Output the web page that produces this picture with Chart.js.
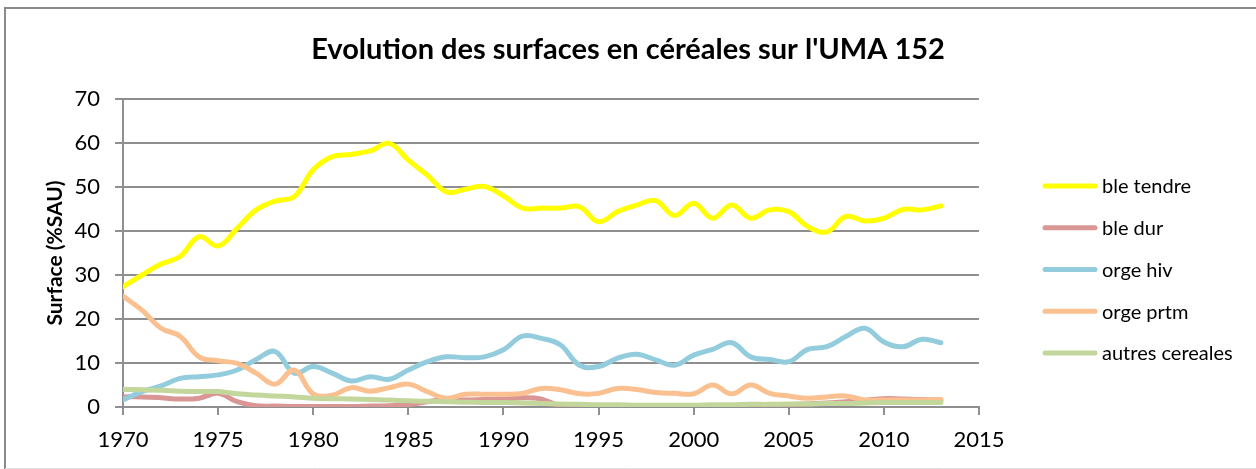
<!DOCTYPE html>
<html>
<head>
<meta charset="utf-8">
<script src="https://cdn.jsdelivr.net/npm/chart.js@4.4.0/dist/chart.umd.min.js"></script>
<style>
html,body{margin:0;padding:0;background:#fff;}
#wrap{position:relative;width:1256px;height:469px;overflow:hidden;}
canvas{display:block;}
</style>
</head>
<body>
<div id="wrap"><canvas id="c" width="1256" height="469"></canvas></div>
<script>
// ---- data ----
const chartTitle = "Evolution des surfaces en céréales sur l'UMA 152";
const yAxisTitle = "Surface (%SAU)";
const years = [1970,1971,1972,1973,1974,1975,1976,1977,1978,1979,
               1980,1981,1982,1983,1984,1985,1986,1987,1988,1989,
               1990,1991,1992,1993,1994,1995,1996,1997,1998,1999,
               2000,2001,2002,2003,2004,2005,2006,2007,2008,2009,
               2010,2011,2012,2013];
const xTickLabels = [1970,1975,1980,1985,1990,1995,2000,2005,2010,2015];
const yTickLabels = [0,10,20,30,40,50,60,70];
const seriesNames = ["ble tendre","ble dur","orge hiv","orge prtm","autres cereales"];

const bleTendre = [27.3,30.0,32.5,34.2,38.7,36.6,40.6,44.8,46.8,47.8,
                   53.9,56.9,57.4,58.2,59.9,56.1,52.7,48.9,49.5,50.1,
                   48.0,45.2,45.2,45.2,45.5,42.1,44.4,45.9,46.9,43.5,
                   46.3,42.9,45.9,42.9,44.8,44.4,41.0,39.8,43.3,42.3,
                   42.9,44.9,44.8,45.7];
const bleDur = [2.3,2.3,2.1,1.8,2.0,3.1,1.2,0.3,0.2,0.1,
                0.1,0.1,0.1,0.2,0.3,0.5,1.2,1.7,1.6,1.7,
                1.8,2.1,1.8,0.2,0.1,0.1,0.1,0.1,0.1,0.1,
                0.1,0.2,0.2,0.1,0.3,0.5,0.7,0.9,1.2,1.5,
                1.9,1.8,1.7,1.5];
const orgeHiv = [1.6,3.5,4.8,6.5,6.9,7.3,8.4,10.8,12.6,7.7,
                 9.2,7.7,5.9,6.9,6.3,8.4,10.3,11.4,11.2,11.4,
                 13.0,16.1,15.6,14.1,9.5,9.2,11.1,12.0,10.7,9.5,
                 11.8,13.1,14.6,11.4,10.8,10.3,13.1,13.7,16.0,17.9,
                 14.8,13.7,15.4,14.6];
const orgePrtm = [25.2,22.0,17.9,16.1,11.4,10.5,9.9,7.7,5.2,8.4,
                  3.0,2.7,4.4,3.6,4.4,5.2,3.5,2.0,2.9,2.9,
                  2.9,3.1,4.2,3.9,3.0,3.1,4.2,4.0,3.3,3.1,
                  3.0,5.0,3.0,5.0,3.1,2.5,2.0,2.3,2.5,1.6,
                  1.6,1.6,1.6,1.7];
const autresCereales = [4.0,3.9,3.8,3.6,3.5,3.5,3.0,2.7,2.5,2.3,
                        2.0,1.9,1.8,1.7,1.6,1.4,1.3,1.2,1.1,1.0,
                        1.0,0.9,0.8,0.7,0.6,0.5,0.5,0.4,0.4,0.4,
                        0.4,0.5,0.5,0.6,0.6,0.7,0.7,0.8,0.8,0.9,
                        1.0,1.0,1.0,1.0];
const seriesValues = [bleTendre, bleDur, orgeHiv, orgePrtm, autresCereales];
const seriesColors = ["#FFFF00","#D99694","#93CDDD","#FAC090","#C3D69B"];

// ---- styles ----
const FONT = "Lato, 'Open Sans', sans-serif";
const GRID = "#8f8f8f";
Chart.defaults.color = "#000";
Chart.defaults.font.family = FONT;

const datasets = seriesNames.map((name, i) => ({
  label: name,
  data: years.map((yr, j) => ({x: yr, y: seriesValues[i][j]})),
  borderColor: seriesColors[i],
  backgroundColor: seriesColors[i],
  borderWidth: 5,
  borderCapStyle: "round",
  borderJoinStyle: "round",
  pointRadius: 0,
  pointHoverRadius: 0,
  tension: 0.4,
  fill: false,
  order: seriesNames.length - i
}));

// Legend drawn in a layout box reserved on the right side of the chart
const sideLegendPlugin = {
  id: "sideLegend",
  start(chart) {
    const box = {
      options: {},
      position: "right",
      weight: 1000,
      fullSize: false,
      left: 0, top: 0, right: 0, bottom: 0, width: 0, height: 0,
      isHorizontal() { return false; },
      update(maxWidth, maxHeight) { this.width = 277; this.height = maxHeight; },
      draw() {
        const ctx = chart.ctx;
        const x0 = this.left + 64;
        const lineLen = 54;
        const rowTop = 186, rowStep = 41.75;
        ctx.save();
        ctx.font = "20px " + FONT;
        ctx.textBaseline = "middle";
        ctx.textAlign = "left";
        chart.data.datasets.forEach((ds, i) => {
          const y = rowTop + i * rowStep;
          ctx.strokeStyle = ds.borderColor;
          ctx.lineWidth = 5;
          ctx.lineCap = "round";
          ctx.beginPath();
          ctx.moveTo(x0 + 2, y); ctx.lineTo(x0 + lineLen - 2, y);
          ctx.stroke();
          ctx.fillStyle = "#000";
          ctx.fillText(ds.label, x0 + lineLen + 5, y + 1);
        });
        ctx.restore();
      }
    };
    Chart.layouts.addBox(chart, box);
  }
};

const framePlugin = {
  id: "frame",
  beforeDraw(chart) {
    const ctx = chart.ctx;
    ctx.save();
    ctx.fillStyle = "#fff";
    ctx.fillRect(0, 0, chart.width, chart.height);
    ctx.restore();
  },
  afterDraw(chart) {
    const ctx = chart.ctx;
    ctx.save();
    ctx.strokeStyle = "#8a8a8a";
    ctx.lineWidth = 2;
    ctx.beginPath();
    ctx.moveTo(5, 469); ctx.lineTo(5, 8); ctx.lineTo(1256, 8);
    ctx.stroke();
    ctx.strokeStyle = "#e0e0e0";
    ctx.lineWidth = 1;
    ctx.beginPath();
    ctx.moveTo(5, 468.5); ctx.lineTo(1256, 468.5);
    ctx.stroke();
    ctx.restore();
  }
};

new Chart(document.getElementById("c"), {
  type: "line",
  data: { datasets },
  plugins: [framePlugin, sideLegendPlugin],
  options: {
    responsive: false,
    animation: false,
    devicePixelRatio: 1,
    layout: { padding: 0 },
    plugins: {
      legend: { display: false },
      tooltip: { enabled: false },
      title: {
        display: true,
        text: chartTitle,
        color: "#000",
        font: { family: FONT, size: 29, weight: "bold" },
        padding: { top: 32.6, bottom: 31.6 }
      }
    },
    scales: {
      x: {
        type: "linear",
        min: xTickLabels[0],
        max: xTickLabels[xTickLabels.length - 1],
        afterBuildTicks: (s) => { s.ticks = xTickLabels.map(v => ({ value: v })); },
        afterFit: (s) => { s.height = 62; },
        ticks: {
          callback: (v) => String(v),
          font: { family: FONT, size: 22 },
          color: "#000",
          padding: 12,
          maxRotation: 0,
          autoSkip: false
        },
        grid: { drawOnChartArea: false, drawTicks: true, tickLength: 8, color: GRID, lineWidth: 2 },
        border: { color: GRID, width: 2 }
      },
      y: {
        min: yTickLabels[0],
        max: yTickLabels[yTickLabels.length - 1],
        afterBuildTicks: (s) => { s.ticks = yTickLabels.map(v => ({ value: v })); },
        afterFit: (s) => { s.width = 123; },
        ticks: {
          font: { family: FONT, size: 22 },
          color: "#000",
          padding: 15
        },
        grid: { drawTicks: true, tickLength: 8, color: GRID, lineWidth: 2 },
        border: { color: GRID, width: 2 },
        title: {
          display: true,
          text: yAxisTitle,
          color: "#000",
          font: { family: FONT, size: 21, weight: "bold" },
          padding: { top: 43, bottom: 0 }
        }
      }
    }
  }
});
</script>
</body>
</html>
